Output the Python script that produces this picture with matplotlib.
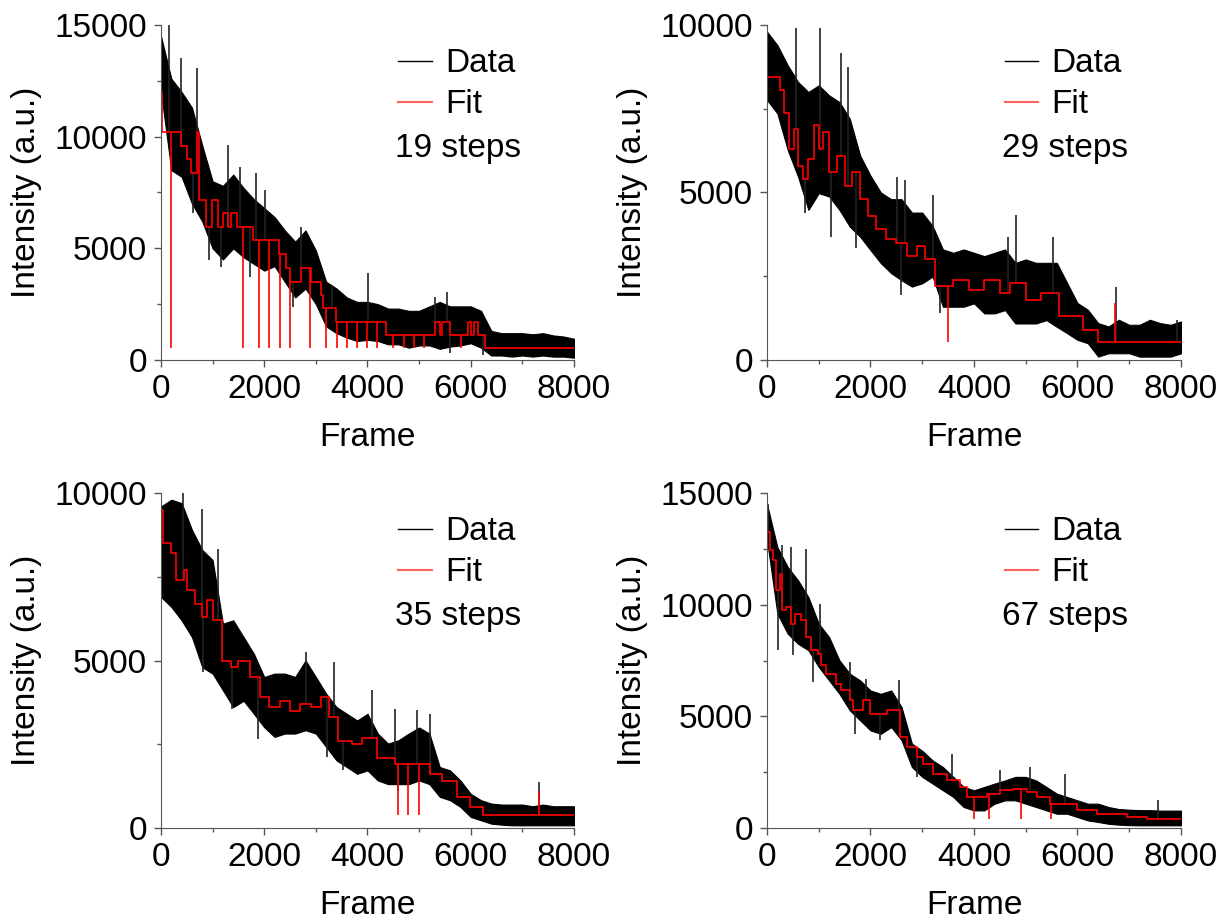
import numpy as np
import matplotlib.pyplot as plt
from matplotlib.lines import Line2D
from matplotlib.ticker import MultipleLocator

plt.rcParams['font.family'] = ['Liberation Sans', 'DejaVu Sans']
plt.rcParams['font.size'] = 24

# raw traces are drawn as their upper / lower envelope, read every 200 frames,
# plus the most visible single-frame spikes
frames = np.arange(0, 8001, 200)

# --- panel 1 (19 steps)
p1_hi = [14500, 12600, 12000, 11300, 9600, 8000, 7800, 8300, 7700, 7200, 6800,
         6400, 5800, 5300, 5800, 4900, 3500, 3200, 2800, 2600, 2600, 2500, 2300,
         2300, 2200, 2200, 2400, 2600, 2400, 2400, 2400, 2200, 1300, 1200, 1200,
         1200, 1150, 1200, 1100, 1050, 950]
p1_lo = [12000, 8500, 8200, 7000, 6200, 5000, 4500, 5000, 4600, 4300, 4000,
         4200, 3500, 2800, 3200, 2500, 1500, 1200, 1000, 850, 900, 850, 700,
         700, 550, 650, 650, 500, 600, 650, 750, 550, 200, 200, 150, 200, 150,
         200, 150, 150, 100]
p1_pk_x = [155, 387, 690, 1291, 1530, 1840, 2015, 2706, 626, 936, 1156, 1724,
           2550, 4003, 5308, 5534, 3306, 5598, 6244]
p1_pk_y = [15000, 13500, 13060, 9630, 8660, 8360, 7610, 5970, 6570, 4480, 4180,
           3730, 2390, 3880, 2840, 3060, 3360, 300, 220]
p1_fit_x = [0, 25, 381, 497, 575, 690, 743, 865, 981, 1098, 1195, 1291, 1356,
            1466, 1789, 2292, 2421, 2499, 2706, 2899, 3093, 3145, 3390, 4358,
            5308, 5405, 5440, 5598, 5953, 5999, 6070, 6147, 6276]
p1_fit_y = [12020, 10230, 9585, 8990, 8360, 10230, 7167, 5972, 7167, 5972, 6570,
            5972, 6570, 5972, 5375, 4748, 4106, 3508, 4106, 3508, 2911, 2344,
            1687, 1120, 1687, 1120, 1687, 1120, 1687, 1120, 1687, 1120, 523]
p1_spk_x = [194, 1588, 1898, 2098, 2299, 2499, 2893, 3196, 3403, 3609, 3803,
            3997, 4191, 4500, 4707, 4901, 5101, 5805]
p1_spk_y = [520] * 18

# --- panel 2 (29 steps)
p2_hi = [9800, 9400, 8800, 8300, 8000, 8200, 7900, 7700, 7200, 6100, 5500,
         5000, 4800, 4800, 4400, 4400, 4000, 3300, 3200, 3300, 3200, 3100, 3200,
         3300, 2900, 3000, 2900, 2900, 2900, 2300, 1700, 1500, 1100, 1000, 1200,
         1050, 1050, 1200, 1100, 1050, 1150]
p2_lo = [7760, 7360, 6270, 5470, 4480, 4980, 4880, 4480, 3980, 3680, 3280,
         2890, 2590, 2380, 2190, 2290, 2490, 1590, 1590, 1590, 1690, 1390, 1390,
         1490, 1090, 1090, 1090, 1190, 990, 800, 600, 500, 100, 200, 200, 200,
         100, 100, 100, 100, 200]
p2_pk_x = [555, 1032, 1439, 1568, 729, 1232, 1729, 2503, 2665, 3213, 2587,
           4807, 4665, 5536, 6742, 7923, 3342]
p2_pk_y = [9900, 9900, 9150, 8760, 4380, 3680, 3330, 5470, 5370, 4930, 1940,
           4330, 3680, 3680, 2190, 1190, 1390]
p2_fit_x = [0, 250, 330, 420, 520, 600, 700, 800, 900, 1000, 1080, 1200, 1350,
            1500, 1650, 1800, 1950, 2100, 2300, 2500, 2700, 2900, 3050, 3250,
            3600, 3900, 4200, 4500, 4700, 5000, 5300, 5650, 6100, 6400]
p2_fit_y = [8460, 8060, 7360, 6300, 6900, 5800, 5400, 6000, 7000, 6300, 6800,
            5600, 6100, 5200, 5600, 4800, 4300, 3900, 3600, 3500, 3100, 3400,
            3000, 2200, 2400, 2100, 2400, 2000, 2300, 1800, 2000, 1300, 900, 530]
p2_spk_x = [3490, 6730]
p2_spk_y = [550, 1700]

# --- panel 3 (35 steps)
p3_hi = [9600, 9800, 9700, 8900, 8300, 8000, 6100, 6200, 5700, 5200, 4510,
         4610, 4610, 4510, 5000, 4510, 4010, 3610, 3410, 3210, 3410, 2820, 2520,
         2620, 2820, 3000, 2820, 1820, 1720, 1420, 1020, 830, 730, 700, 700,
         700, 650, 700, 650, 650, 650]
p3_lo = [6900, 6600, 6200, 5700, 4800, 4610, 4110, 3610, 3800, 3410, 3010,
         2720, 2820, 2820, 2920, 2820, 2420, 2020, 1820, 1620, 1720, 1420, 1310,
         1310, 1310, 1420, 1310, 930, 830, 630, 330, 230, 130, 100, 80, 80, 80,
         80, 80, 80, 80]
p3_pk_x = [433, 788, 1111, 820, 1382, 1885, 2809, 3358, 3209, 3519, 4081,
           4533, 4953, 5211, 4597, 7315]
p3_pk_y = [10000, 9530, 8340, 4660, 3560, 2670, 5250, 4960, 2120, 1720, 4110,
           3560, 3510, 3410, 1120, 1370]
p3_fit_x = [0, 30, 200, 300, 450, 500, 650, 800, 900, 1000, 1175, 1350, 1500,
            1720, 1920, 2100, 2300, 2500, 2700, 2900, 3100, 3250, 3435, 3700,
            3900, 4180, 4530, 5210, 5450, 5730, 5990, 6240]
p3_fit_y = [9500, 8500, 8200, 7400, 7700, 7100, 6700, 6300, 6800, 6200, 5000,
            4800, 5000, 4500, 3900, 3600, 3800, 3500, 3700, 3600, 3900, 3300,
            2600, 2500, 2700, 2100, 1900, 1600, 1400, 930, 630, 380]
p3_spk_x = [4600, 4790, 5000, 7315]
p3_spk_y = [380, 380, 380, 1120]

# --- panel 4 (67 steps)
p4_hi = [14500, 12580, 11690, 11090, 10340, 9150, 8550, 7510, 6910, 6610, 6160,
         6010, 6160, 5420, 3780, 3460, 3030, 2730, 2290, 1840, 1690, 1840, 1990,
         2130, 2290, 2290, 2130, 1840, 1540, 1390, 1240, 1090, 1090, 940, 850,
         820, 800, 800, 780, 780, 780]
p4_lo = [12900, 9600, 8700, 8250, 7960, 7210, 6610, 6010, 5270, 4820, 4370,
         4220, 4520, 3930, 2730, 2290, 1990, 1690, 1390, 940, 790, 790, 1090,
         1240, 1240, 1090, 940, 790, 640, 640, 490, 340, 270, 190, 150, 130,
         120, 120, 120, 120, 120]
p4_pk_x = [19, 297, 471, 761, 213, 503, 890, 1019, 1600, 2555, 1910, 1697,
           2181, 2891, 3568, 4503, 5084, 5762, 7555]
p4_pk_y = [14520, 12660, 12580, 12510, 7950, 7730, 6540, 10040, 7430, 6610,
           6690, 4220, 3930, 2280, 3330, 2580, 2730, 2430, 1240]
p4_fit_x = [0, 52, 116, 181, 245, 297, 374, 471, 536, 665, 761, 858, 987, 1052,
            1148, 1342, 1439, 1600, 1665, 1858, 1987, 2310, 2568, 2697, 2891,
            3020, 3213, 3471, 3729, 3858, 4245, 4503, 4762, 5020, 5213, 5471,
            5987, 6375, 6955, 7342]
p4_fit_y = [13250, 12430, 11990, 10640, 11390, 9750, 9900, 9150, 9600, 9300,
            8550, 7960, 7810, 7280, 6910, 6460, 6160, 5720, 5270, 5720, 5120,
            5270, 4070, 3630, 3180, 2880, 2430, 2130, 1840, 1390, 1540, 1690,
            1760, 1610, 1390, 1090, 790, 640, 490, 420]
p4_spk_x = [4007, 4297, 4903, 5490]
p4_spk_y = [420, 420, 420, 420]

steps = ["19 steps", "29 steps", "35 steps", "67 steps"]
ymax = [15000, 10000, 10000, 15000]

panels = [(p1_hi, p1_lo, p1_pk_x, p1_pk_y, p1_fit_x, p1_fit_y, p1_spk_x, p1_spk_y),
          (p2_hi, p2_lo, p2_pk_x, p2_pk_y, p2_fit_x, p2_fit_y, p2_spk_x, p2_spk_y),
          (p3_hi, p3_lo, p3_pk_x, p3_pk_y, p3_fit_x, p3_fit_y, p3_spk_x, p3_spk_y),
          (p4_hi, p4_lo, p4_pk_x, p4_pk_y, p4_fit_x, p4_fit_y, p4_spk_x, p4_spk_y)]

fig = plt.figure(figsize=(12.28, 9.19), dpi=100)
boxes = [[0.1311, 0.6083, 0.3363, 0.3645],
         [0.6246, 0.6083, 0.3371, 0.3645],
         [0.1311, 0.0990, 0.3363, 0.3645],
         [0.6246, 0.0990, 0.3371, 0.3645]]

for i, (hi, lo, px, py, fx, fy, sx, sy) in enumerate(panels):
    ax = fig.add_axes(boxes[i])
    ax.fill_between(frames, lo, hi, color="black", lw=0.8, edgecolor="black")

    fx = np.append(fx, 8000)
    fy = np.append(fy, fy[-1])
    # data spikes start from the local fit level
    pbase = fy[np.searchsorted(fx, px, side="right") - 1]
    ax.vlines(px, pbase, py, color="#222222", lw=1.2)

    ax.step(fx, fy, where="post", color="red", lw=1.2)
    # single-frame excursions of the fit
    base = fy[np.searchsorted(fx, sx, side="right") - 1]
    ax.vlines(sx, sy, base, color="red", lw=1.2)

    ax.set_xlim(0, 8000)
    ax.set_ylim(0, ymax[i])
    ax.xaxis.set_major_locator(MultipleLocator(2000))
    ax.xaxis.set_minor_locator(MultipleLocator(1000))
    ax.yaxis.set_major_locator(MultipleLocator(5000))
    ax.yaxis.set_minor_locator(MultipleLocator(2500))
    ax.tick_params(which="major", direction="out", length=5, width=1,
                   color="#555555", pad=5)
    ax.tick_params(which="minor", direction="out", length=3, width=1,
                   color="#555555")
    for s in ["top", "right"]:
        ax.spines[s].set_visible(False)
    for s in ["left", "bottom"]:
        ax.spines[s].set_color("#555555")
    ax.set_xlabel("Frame", labelpad=12)
    ax.set_ylabel("Intensity (a.u.)", labelpad=9)

    handles = [Line2D([], [], color="black", lw=1),
               Line2D([], [], color="#ff6060", lw=1.5)]
    ax.legend(handles, ["Data", "Fit"], loc="upper left", bbox_to_anchor=(0.575, 0.93),
              frameon=False, handlelength=1.0, handletextpad=0.4,
              labelspacing=0.3, borderpad=0, borderaxespad=0)
    ax.text(0.567, 0.63, steps[i], transform=ax.transAxes, va="center", ha="left")

fig.savefig("out.png", dpi=100)
